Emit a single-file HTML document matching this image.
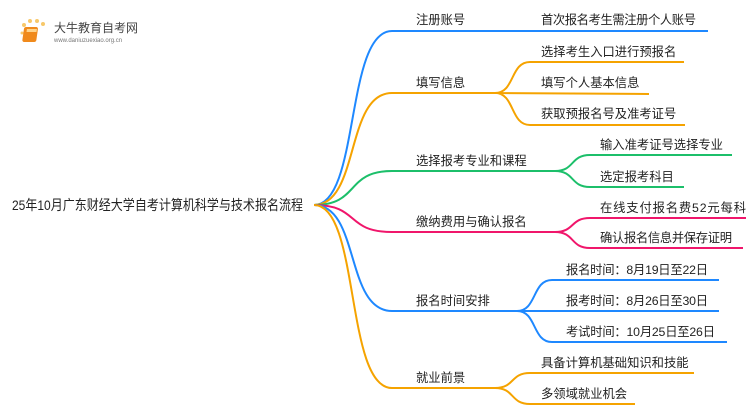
<!DOCTYPE html>
<html><head><meta charset="utf-8"><style>
body{margin:0;width:750px;height:410px;background:#fff;overflow:hidden}
svg{display:block}
text{font-family:"Liberation Sans","Noto Sans CJK SC",sans-serif;fill:#222}
</style></head><body>
<svg width="750" height="410" viewBox="0 0 750 410">
<g>
<circle cx="24" cy="25" r="2" fill="#f7c86a"/><circle cx="30" cy="21" r="2" fill="#f7c86a"/><circle cx="37" cy="21" r="2" fill="#f7c86a"/><circle cx="43" cy="24" r="2" fill="#f7c86a"/><circle cx="22" cy="33" r="1.5" fill="#f7c86a"/><circle cx="24" cy="40" r="1.5" fill="#f7c86a"/>
<rect x="28" y="27" width="14" height="15" rx="2" fill="#f08a1c" transform="skewX(-8)"/>
<rect x="31" y="29" width="10" height="3" fill="#ffd48a" transform="skewX(-8)"/>
<text x="54" y="32" font-size="12" style="fill:#444">大牛教育自考网</text>
<text x="54" y="42" font-size="6" style="fill:#777">www.daniuzuexiao.org.cn</text>
</g>
<text x="12" y="210" font-size="14" textLength="291" lengthAdjust="spacingAndGlyphs">25年10月广东财经大学自考计算机科学与技术报名流程</text>
<g fill="none" stroke-width="2">
<path d="M314,205 C360,205 345,31 392,31 L708,31" stroke="#1e88ff"/>
<path d="M314,205 C360,205 345,93 392,93 L495,93" stroke="#f5a300"/>
<path d="M495,93 C515,93 510,62 530,62 L684,62 M495,93 L649,94 M495,93 C515,93 510,125 530,125 L685,125" stroke="#f5a300"/>
<path d="M314,205 C360,205 345,171 392,171 L555,171" stroke="#1cbf6a"/>
<path d="M555,171 C575,171 570,155 590,155 L732,155 M555,171 C575,171 570,187 590,187 L684,187" stroke="#1cbf6a"/>
<path d="M314,205 C360,205 345,232 392,232 L555,232" stroke="#f0166b"/>
<path d="M555,232 C575,232 570,218 590,218 L746,218 M555,232 C575,232 570,248 590,248 L743,248" stroke="#f0166b"/>
<path d="M314,205 C360,205 345,311 392,311 L517,311" stroke="#1e88ff"/>
<path d="M517,311 C537,311 532,280 552,280 L719,280 M517,311 L719,311 M517,311 C537,311 532,342 552,342 L727,342" stroke="#1e88ff"/>
<path d="M314,205 C360,205 345,388 392,388 L495,388" stroke="#f5a300"/>
<path d="M495,388 C515,388 510,373 530,373 L694,373 M495,388 C515,388 510,404 530,404 L635,404" stroke="#f5a300"/>
</g>
<g font-size="12.3" lengthAdjust="spacingAndGlyphs">
<text x="416" y="24">注册账号</text><text x="541" y="24" textLength="155">首次报名考生需注册个人账号</text>
<text x="416" y="87">填写信息</text>
<text x="541" y="56">选择考生入口进行预报名</text><text x="541" y="87">填写个人基本信息</text><text x="541" y="118">获取预报名号及准考证号</text>
<text x="416" y="165">选择报考专业和课程</text>
<text x="600" y="149">输入准考证号选择专业</text><text x="600" y="181">选定报考科目</text>
<text x="416" y="226">缴纳费用与确认报名</text>
<text x="600" y="212" textLength="146">在线支付报名费52元每科</text><text x="600" y="242" textLength="132">确认报名信息并保存证明</text>
<text x="416" y="305">报名时间安排</text>
<text x="566" y="274" textLength="142">报名时间：8月19日至22日</text><text x="566" y="305" textLength="142">报考时间：8月26日至30日</text><text x="566" y="336" textLength="149">考试时间：10月25日至26日</text>
<text x="416" y="382">就业前景</text>
<text x="541" y="367">具备计算机基础知识和技能</text><text x="541" y="398">多领域就业机会</text>
</g>
</svg>
</body></html>
